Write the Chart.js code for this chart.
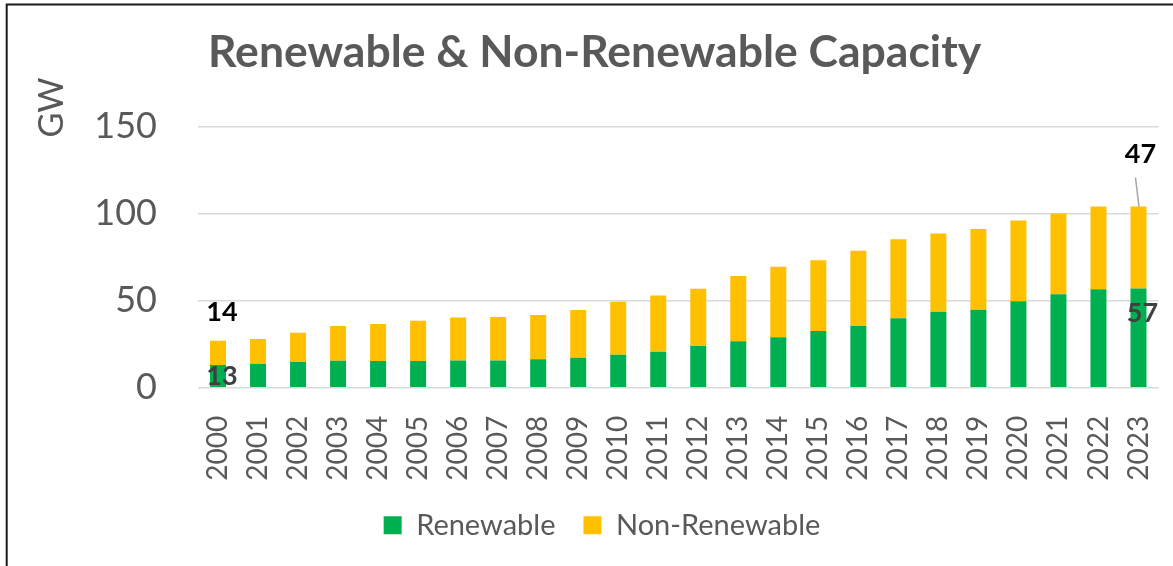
<!DOCTYPE html>
<html>
<head>
<meta charset="utf-8">
<script src="https://cdn.jsdelivr.net/npm/chart.js@4.4.0/dist/chart.umd.min.js"></script>
<style>
  html, body { margin: 0; padding: 0; background: #ffffff; }
  #wrap { width: 1173px; height: 566px; }
</style>
</head>
<body>
<div id="wrap"><canvas id="c" width="1173" height="566"></canvas></div>
<script>
const chartTitle = "Renewable & Non-Renewable Capacity";
const yAxisTitle = "GW";
const years = ["2000","2001","2002","2003","2004","2005","2006","2007","2008","2009","2010","2011",
               "2012","2013","2014","2015","2016","2017","2018","2019","2020","2021","2022","2023"];
const renewable = [13, 13.6, 14.8, 15.5, 15.3, 15.3, 15.7, 15.7, 16.3, 17.2, 19, 20.6,
                   24, 26.7, 29, 32.6, 35.5, 39.9, 43.7, 44.8, 49.7, 53.7, 56.6, 57];
const nonRenewable = [14, 14.4, 16.8, 20, 21.3, 23.2, 24.7, 24.9, 25.5, 27.4, 30.4, 32.3,
                      32.9, 37.5, 40.5, 40.6, 43.1, 45.4, 44.8, 46.4, 46.3, 46.3, 47.4, 47];
const seriesNames = ["Renewable", "Non-Renewable"];
const yTicks = [0, 50, 100, 150];

const GREEN = "#00B050", YELLOW = "#FFC000", TEXT = "#595959", GRID = "#D9D9D9";
const FONT = "Lato, 'Open Sans', sans-serif";

// which values get a data label: [datasetIndex, pointIndex, color, placement]
const labelled = [
  [1, 0, "#000000", "above"],
  [0, 0, "#404040", "middle"],
  [1, 23, "#000000", "leader"],
  [0, 23, "#404040", "insideTop"]
];

const decorPlugin = {
  id: "decor",
  afterDraw(chart) {
    const ctx = chart.ctx;
    ctx.save();
    // outer frame
    ctx.strokeStyle = "#1a1a1a";
    ctx.lineWidth = 2;
    ctx.strokeRect(6.7, 4.5, 1300, 700);
    // title
    ctx.fillStyle = TEXT;
    ctx.font = "bold 44.5px " + FONT;
    ctx.textAlign = "left";
    ctx.textBaseline = "alphabetic";
    ctx.fillText(chartTitle, chart.chartArea.left + 10, 66.5);
    // y axis title
    ctx.save();
    ctx.translate(52, 107.5);
    ctx.rotate(-Math.PI / 2);
    ctx.font = "34px " + FONT;
    ctx.textAlign = "center";
    ctx.textBaseline = "middle";
    ctx.fillText(yAxisTitle, 0, 0);
    ctx.restore();
    // data labels
    ctx.font = "bold 27px " + FONT;
    ctx.textAlign = "center";
    ctx.textBaseline = "middle";
    labelled.forEach(([ds, i, color, place]) => {
      const el = chart.getDatasetMeta(ds).data[i];
      const val = chart.data.datasets[ds].data[i];
      const txt = String(Math.round(val));
      let x = el.x + 4, y;
      if (place === "above") y = el.y - 28.5;
      else if (place === "middle") y = (el.y + el.base) / 2 + 0.5;
      else if (place === "insideTop") y = el.y + 25;
      else {
        y = el.y - 52;
        x = el.x + 2;
        ctx.strokeStyle = "#A6A6A6";
        ctx.lineWidth = 1.5;
        ctx.beginPath();
        ctx.moveTo(el.x + 0.5, el.y);
        ctx.lineTo(el.x - 3, el.y - 29);
        ctx.stroke();
      }
      ctx.fillStyle = color;
      ctx.fillText(txt, x, y);
    });
    ctx.restore();
  }
};

new Chart(document.getElementById("c"), {
  type: "bar",
  data: {
    labels: years,
    datasets: [
      { label: seriesNames[0], data: renewable, backgroundColor: GREEN, borderWidth: 0,
        barPercentage: 0.4, categoryPercentage: 1.0 },
      { label: seriesNames[1], data: nonRenewable, backgroundColor: YELLOW, borderWidth: 0,
        barPercentage: 0.4, categoryPercentage: 1.0 }
    ]
  },
  options: {
    responsive: false,
    animation: false,
    layout: { padding: { left: 45.5, right: 14.5, top: 126.5, bottom: 16.25 } },
    plugins: {
      title: { display: false },
      tooltip: { enabled: false },
      legend: {
        position: "bottom",
        labels: {
          boxWidth: 18, boxHeight: 18, padding: 28,
          color: TEXT,
          font: { family: FONT, size: 29 }
        }
      }
    },
    scales: {
      x: {
        stacked: true,
        grid: { display: false, drawTicks: false },
        border: { display: false },
        ticks: {
          color: TEXT, font: { family: FONT, size: 28 },
          maxRotation: 90, minRotation: 90, padding: 28, autoSkip: false
        },
        afterFit(scale) { scale.height = 95; scale.paddingLeft = 0; scale.paddingRight = 0; }
      },
      y: {
        stacked: true,
        min: 0, max: 150,
        afterBuildTicks(scale) { scale.ticks = yTicks.map(v => ({ value: v })); },
        grid: { color: GRID, lineWidth: 1.5, drawTicks: false },
        border: { display: false },
        ticks: { color: TEXT, font: { family: FONT, size: 36 }, padding: 41 },
        afterFit(scale) { scale.width = 152.5; }
      }
    }
  },
  plugins: [decorPlugin]
});
</script>
</body>
</html>
